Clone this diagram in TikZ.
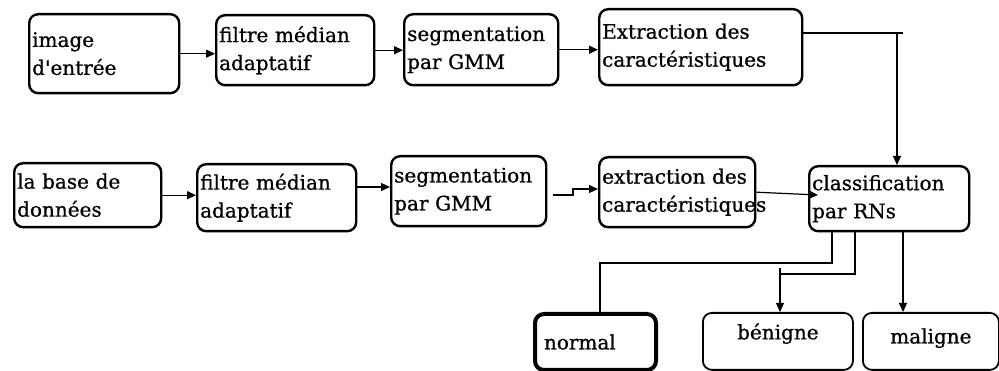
\documentclass[tikz,border=0pt]{standalone}
\usepackage{fontspec}
\setmainfont{DejaVu Serif}[FakeBold=0.8]
\usetikzlibrary{arrows.meta}
\begin{document}
\begin{tikzpicture}[x=1pt,y=-1pt,
 box/.style={draw, line width=2.4pt, rounded corners=9pt, align=left, inner sep=3pt, anchor=north west, font=\fontsize{20}{28}\selectfont},
 outbox/.style={box, align=center},
 link/.style={line width=1.2pt, -{Triangle[length=9pt,width=8pt]}},
 plain/.style={line width=1.2pt}]
\useasboundingbox (0,0) rectangle (999,371);
% top row
\node[box, text width=144pt, minimum height=79pt] (t1) at (28,13) {image\\d\textquotesingle entrée};
\node[box, text width=152pt, minimum height=70pt] (t2) at (215,14) {filtre médian\\adaptatif};
\node[box, text width=148pt, minimum height=71pt] (t3) at (403,13) {segmentation\\par GMM};
\node[box, text width=197pt, minimum height=76pt] (t4) at (598,8) {Extraction des\\caractéristiques};
% bottom row
\node[box, text width=141pt, minimum height=64pt] (b1) at (13,162) {la base de\\données};
\node[box, text width=153pt, minimum height=67pt] (b2) at (196,163) {filtre médian\\adaptatif};
\node[box, text width=149pt, minimum height=70pt] (b3) at (390,155) {segmentation\\par GMM};
\node[box, text width=150pt, minimum height=70pt] (b4) at (598,156) {extraction des\\caractéristiques};
\node[box, text width=154pt, minimum height=65pt] (b5) at (808,165) {classification\\par RNs};
% outputs
\node[box, line width=4pt, text width=115pt, minimum height=56pt] (n) at (533,312) {\hspace*{6pt}normal};
\node[outbox, line width=1.8pt, text width=144pt, minimum height=57pt, text depth=20pt] (be) at (702,312) {bénigne};
\node[outbox, line width=1.8pt, text width=130pt, minimum height=57pt, text depth=11pt] (ma) at (862,312) {maligne};
% top connectors
\draw[link] (t1.east) -- (t2.west |- t1.east);
\draw[link] (t2.east) -- (t3.west |- t2.east);
\draw[link] (t3.east) -- (t4.west |- t3.east);
\coordinate (c0) at (801,33);
\coordinate (c1) at (897,33);
\coordinate (c2) at (903,33);
\draw[plain] (c0) -- (c2);
\draw[link] (c1) -- (c1 |- b5.north);
% bottom connectors
\draw[link] (b1.east) -- (b2.west |- b1.east);
\coordinate (p2) at (355,187);
\draw[link] (p2) -- (p2 -| b3.west);
\coordinate (p3a) at (553,195);
\coordinate (p3b) at (573,195);
\coordinate (p3c) at (573,189);
\draw[link] (p3a) -- (p3b) -- (p3c) -- (p3c -| b4.west);
\coordinate (q) at (818,195);
\draw[link] (b4.east) -- (q);
% outputs connectors
\coordinate (o1) at (832,263);
\coordinate (o1n) at (600,263);
\draw[plain] (o1 |- b5.south) -- (o1) -- (o1n) -- (o1n |- n.north);
\coordinate (o2) at (855,274);
\coordinate (o2b) at (780,274);
\coordinate (o2c) at (780,268);
\draw[plain] (o2 |- b5.south) -- (o2) -- (o2b);
\draw[link] (o2c) -- (o2c |- be.north);
\coordinate (o3) at (903,250);
\draw[link] (o3 |- b5.south) -- (o3 |- ma.north);
\end{tikzpicture}
\end{document}
